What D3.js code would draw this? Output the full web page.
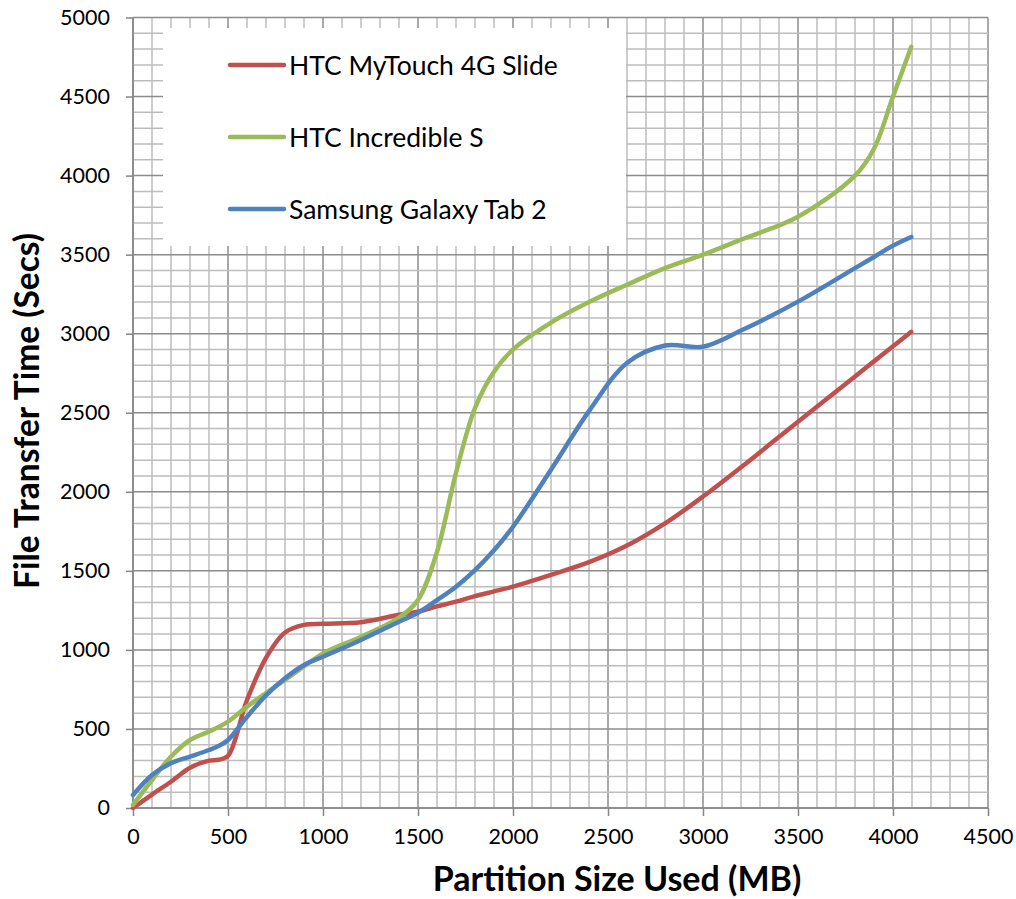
<!DOCTYPE html>
<html><head><meta charset="utf-8">
<script src="https://cdn.jsdelivr.net/npm/d3@7/dist/d3.min.js"></script>
<style>body{margin:0;background:#fff}svg{display:block}</style>
</head><body>
<svg id="chart" width="1016" height="899"></svg>
<script>
const partitionMB = [0,100,200,300,400,450,500,600,700,800,900,1000,1200,1400,1500,1600,1700,1800,1900,2000,2200,2400,2600,2800,3000,3200,3500,3800,3900,4000,4096];
const mytouch   = [0,85,166,254,300,305,330,683,950,1110,1158,1165,1175,1222,1242,1275,1305,1340,1370,1400,1475,1555,1660,1800,1970,2155,2443,2730,2825,2920,3012];
const incredible= [20,177,325,430,483,512,546,641,727,810,895,978,1083,1205,1316,1620,2120,2530,2760,2900,3070,3200,3310,3415,3500,3595,3740,4000,4170,4500,4815];
const galaxyTab = [82,209,284,325,367,392,430,577,712,820,904,957,1063,1178,1235,1315,1400,1505,1630,1779,2140,2510,2815,2925,2918,3020,3203,3415,3485,3557,3612];
const seriesNames = ["HTC MyTouch 4G Slide","HTC Incredible S","Samsung Galaxy Tab 2"];
const seriesColors = ["#C0504D","#9BBB59","#4F81BD"];
const xTicks = [0,500,1000,1500,2000,2500,3000,3500,4000,4500];
const yTicks = [0,500,1000,1500,2000,2500,3000,3500,4000,4500,5000];
const xTitle = "Partition Size Used (MB)";
const yTitle = "File Transfer Time (Secs)";

const svg = d3.select("#chart");
const L = 133, R = 988, T = 17.5, B = 808;
const x = d3.scaleLinear().domain([0,4500]).range([L,R]);
const y = d3.scaleLinear().domain([0,5000]).range([B,T]);
const font = "Lato, 'Open Sans', sans-serif";

// grid
const g = svg.append("g");
g.selectAll(".v").data(d3.range(0,4501,100)).join("line")
  .attr("x1",d=>x(d)).attr("x2",d=>x(d)).attr("y1",T).attr("y2",B)
  .attr("stroke",d=>d%500===0?"#8c8c8c":"#bdbdbd").attr("stroke-width",1.5);
g.selectAll(".h").data(d3.range(0,5001,100)).join("line")
  .attr("y1",d=>y(d)).attr("y2",d=>y(d)).attr("x1",L).attr("x2",R)
  .attr("stroke",d=>d%500===0?"#8c8c8c":"#bdbdbd").attr("stroke-width",1.5);

// axes
const fmt = d3.format("d");
const xAxis = d3.axisBottom(x).tickValues(xTicks).tickFormat(fmt).tickSize(8).tickPadding(13);
const yAxis = d3.axisLeft(y).tickValues(yTicks).tickFormat(fmt).tickSize(7).tickPadding(16);
const ax = svg.append("g").attr("transform",`translate(0,${B})`).call(xAxis);
const ay = svg.append("g").attr("transform",`translate(${L},0)`).call(yAxis);
[ax,ay].forEach(a=>{
  a.select(".domain").attr("stroke","#868686").attr("stroke-width",1.5);
  a.selectAll(".tick line").attr("stroke","#868686").attr("stroke-width",1.5);
  a.selectAll("text").attr("font-family",font).attr("font-size",21.5).attr("fill","#000");
});
ay.select(".domain").attr("d",`M0,${T}V${B}`);
ax.select(".domain").attr("d",`M${L},0H${R}`);

// legend box
svg.append("rect").attr("x",163).attr("y",28).attr("width",463).attr("height",218).attr("fill","#fff");

// lines
const line = d3.line().x(d=>x(d[0])).y(d=>y(d[1])).curve(d3.curveCatmullRom.alpha(0.5));
[mytouch,incredible,galaxyTab].forEach((vals,i)=>{
  svg.append("path").datum(partitionMB.map((m,j)=>[m,vals[j]]))
    .attr("d",line).attr("fill","none").attr("stroke",seriesColors[i])
    .attr("stroke-width",4.5).attr("stroke-linecap","round").attr("stroke-linejoin","round");
});

// legend
const leg = svg.append("g");
seriesNames.forEach((n,i)=>{
  const yy = 65 + i*72;
  leg.append("line").attr("x1",230).attr("x2",284).attr("y1",yy).attr("y2",yy)
    .attr("stroke",seriesColors[i]).attr("stroke-width",4.5).attr("stroke-linecap","round");
  leg.append("text").attr("x",289).attr("y",yy).attr("dy","0.36em")
    .attr("font-family",font).attr("font-size",26.5).text(n);
});

// titles
svg.append("text").attr("x",617).attr("y",891).attr("text-anchor","middle")
  .attr("font-family",font).attr("font-weight","bold").attr("font-size",34).text(xTitle);
svg.append("text").attr("transform","translate(39,411) rotate(-90)").attr("text-anchor","middle")
  .attr("font-family",font).attr("font-weight","bold").attr("font-size",33.5).text(yTitle);
</script>
</body></html>
